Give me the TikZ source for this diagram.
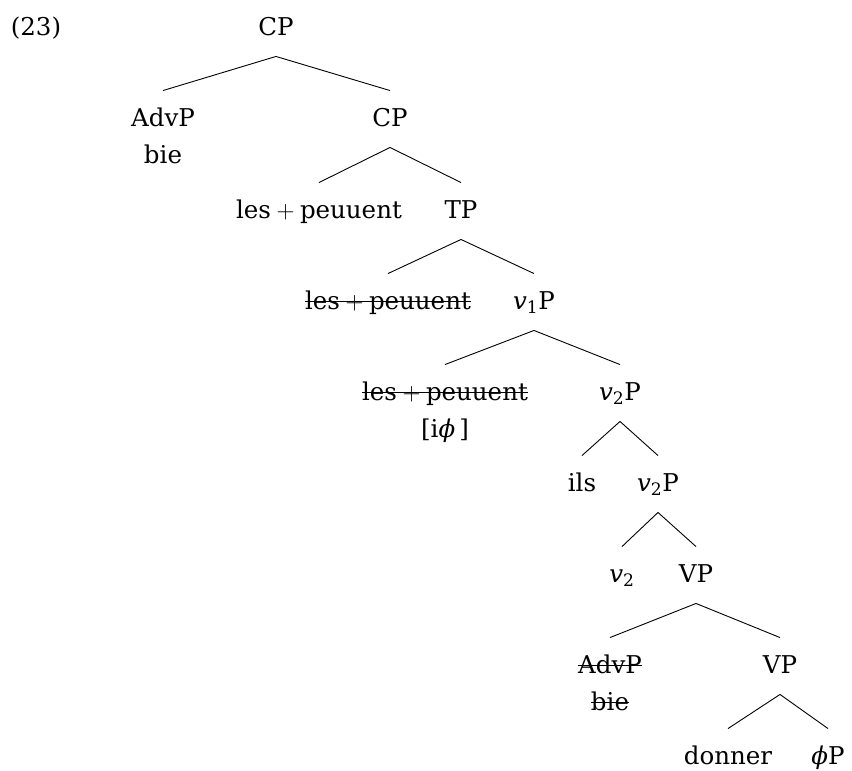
\documentclass[tikz,border=0pt]{standalone}
\usepackage{fontspec}
\setmainfont{DejaVu Serif}
\usetikzlibrary{positioning}
\newsavebox\strkbox
\newcommand{\strk}[1]{\sbox\strkbox{#1}\rlap{\usebox\strkbox}\rule[0.3em]{\wd\strkbox}{1pt}}
\newcommand{\lilv}[1]{\textit{v}\textsubscript{#1}}
\tikzstyle{cat} = [anchor=base,
                  text height=17pt,
                  text depth=3pt,
                  inner xsep=2pt,
                  inner ysep=18pt]
\tikzstyle{gloss} = [anchor=base,
                    inner sep=0pt]
\tikzstyle{tree} = [x=1pt,
                   y=-1pt,
                   font=\fontsize{24.5}{29}\selectfont,
                   line width=0.9pt]

\begin{document}
\begin{tikzpicture}[tree]
    \useasboundingbox (0,0) rectangle (852,771);
    \node (ex) at (36,35) [gloss] {(23)};
    \node (cp) at (276,35) [cat] {CP};
    \node (advp) at (163,126) [cat] {AdvP};
    \node (bie) [gloss, below=37pt of advp.base, anchor=base] {bie};
    \node (cp2) at (390,126) [cat] {CP};
    \node (les1) at (319,218) [cat] {les${}+{}$peuuent};
    \node (tp) at (461,218) [cat] {TP};
    \node (les2) at (388,309) [cat] {\strk{les${}+{}$peuuent}};
    \node (v1p) at (534,309) [cat] {\lilv{1}P};
    \node (les3) at (445,400) [cat] {\strk{les${}+{}$peuuent}};
    \node (iphi) [gloss, below=37pt of les3.base, anchor=base] {[i\textit{ϕ}\,]};
    \node (v2p) at (620,400) [cat] {\lilv{2}P};
    \node (ils) at (582,491) [cat] {ils};
    \node (v2pb) at (658,491) [cat] {\lilv{2}P};
    \node (v2) at (622,582) [cat] {\lilv{2}};
    \node (vp) at (696,582) [cat] {VP};
    \node (advp2) at (610,673) [cat] {\strk{AdvP}};
    \node (bie2) [gloss, below=37pt of advp2.base, anchor=base] {\strk{bie}};
    \node (vp2) at (780,673) [cat] {VP};
    \node (donner) at (728,764) [cat] {donner};
    \node (phip) at (828,764) [cat] {\textit{ϕ}P};
    \path[draw]
      (cp.south) edge (advp.north)
      (cp.south) edge (cp2.north)
      (cp2.south) edge (les1.north)
      (cp2.south) edge (tp.north)
      (tp.south) edge (les2.north)
      (tp.south) edge (v1p.north)
      (v1p.south) edge (les3.north)
      (v1p.south) edge (v2p.north)
      (v2p.south) edge (ils.north)
      (v2p.south) edge (v2pb.north)
      (v2pb.south) edge (v2.north)
      (v2pb.south) edge (vp.north)
      (vp.south) edge (advp2.north)
      (vp.south) edge (vp2.north)
      (vp2.south) edge (donner.north)
      (vp2.south) edge (phip.north);
\end{tikzpicture}
\end{document}
